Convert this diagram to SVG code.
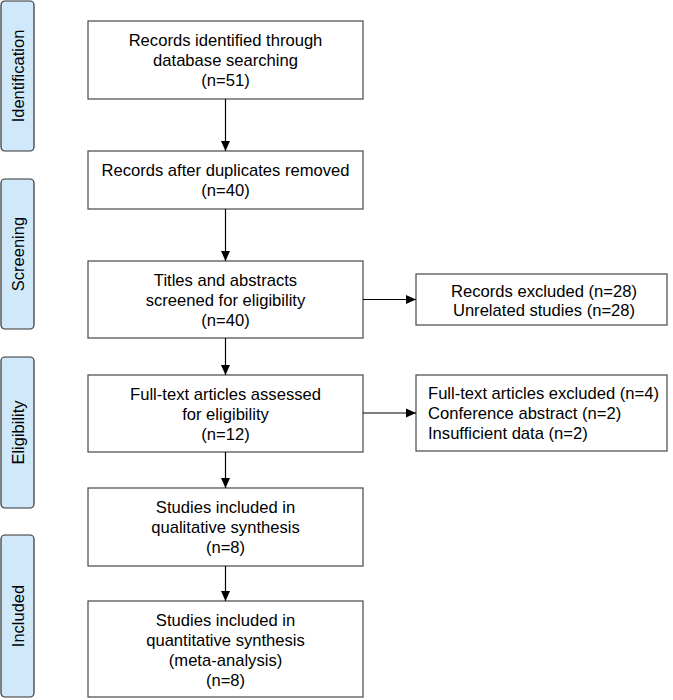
<svg xmlns="http://www.w3.org/2000/svg" width="673" height="700" viewBox="0 0 673 700">
<style>
.stage rect{fill:#cfe9fb;stroke:#333;stroke-width:1.2}
.stage text{font-family:"Liberation Sans",Arial,sans-serif;font-size:16.5px;fill:#000;text-anchor:middle}
.box rect{fill:#fff;stroke:#555;stroke-width:1.3}
.box text{font-family:"Liberation Sans",Arial,sans-serif;font-size:16.6px;fill:#000}
.c text{text-anchor:middle}
.l text{text-anchor:start}
#connectors line{stroke:#000;stroke-width:1.2}
</style>
<defs>
<marker id="ah" viewBox="0 0 10 10" refX="10" refY="5" markerWidth="10" markerHeight="10" markerUnits="userSpaceOnUse" orient="auto">
<path d="M0,0.5 L10,5 L0,9.5 Z" fill="#000"/>
</marker>
</defs>
<rect width="673" height="700" fill="#fff"/>
<g id="stage-identification" class="stage"><rect x="1" y="1" width="33" height="150" rx="4"/><text transform="translate(23.5,76) rotate(-90)">Identification</text></g>
<g id="stage-screening" class="stage"><rect x="1" y="179" width="33" height="150" rx="4"/><text transform="translate(23.5,254) rotate(-90)">Screening</text></g>
<g id="stage-eligibility" class="stage"><rect x="1" y="357" width="33" height="151" rx="4"/><text transform="translate(23.5,432.5) rotate(-90)">Eligibility</text></g>
<g id="stage-included" class="stage"><rect x="1" y="535" width="33" height="162" rx="4"/><text transform="translate(23.5,616) rotate(-90)">Included</text></g>

<g id="n1" class="box c"><rect x="88" y="21" width="275" height="78"/><text x="225.5" y="45.5">Records identified through</text><text x="225.5" y="65.5">database searching</text><text x="225.5" y="85.5">(n=51)</text></g>
<g id="n2" class="box c"><rect x="88" y="151" width="275" height="58"/><text x="225.5" y="175.5">Records after duplicates removed</text><text x="225.5" y="195.5">(n=40)</text></g>
<g id="n3" class="box c"><rect x="88" y="261" width="275" height="77"/><text x="225.5" y="285.5">Titles and abstracts</text><text x="225.5" y="305.5">screened for eligibility</text><text x="225.5" y="325.5">(n=40)</text></g>
<g id="n4" class="box c"><rect x="416" y="274" width="251" height="51"/><text x="544" y="296.5">Records excluded (n=28)</text><text x="544" y="316">Unrelated studies (n=28)</text></g>
<g id="n5" class="box c"><rect x="88" y="375" width="275" height="77"/><text x="225.5" y="399.5">Full-text articles assessed</text><text x="225.5" y="419.5">for eligibility</text><text x="225.5" y="439.5">(n=12)</text></g>
<g id="n6" class="box l"><rect x="416" y="375" width="251" height="76"/><text x="428" y="399">Full-text articles excluded (n=4)</text><text x="428" y="419">Conference abstract (n=2)</text><text x="428" y="439">Insufficient data (n=2)</text></g>
<g id="n7" class="box c"><rect x="88" y="488" width="275" height="78"/><text x="225.5" y="512.5">Studies included in</text><text x="225.5" y="532.5">qualitative synthesis</text><text x="225.5" y="552.5">(n=8)</text></g>
<g id="n8" class="box c"><rect x="88" y="601" width="275" height="96"/><text x="225.5" y="626">Studies included in</text><text x="225.5" y="646">quantitative synthesis</text><text x="225.5" y="666">(meta-analysis)</text><text x="225.5" y="686">(n=8)</text></g>

<g id="connectors">
<line x1="225.5" y1="99" x2="225.5" y2="151" marker-end="url(#ah)"/>
<line x1="225.5" y1="209" x2="225.5" y2="261" marker-end="url(#ah)"/>
<line x1="225.5" y1="338" x2="225.5" y2="375" marker-end="url(#ah)"/>
<line x1="225.5" y1="452" x2="225.5" y2="488" marker-end="url(#ah)"/>
<line x1="225.5" y1="566" x2="225.5" y2="601" marker-end="url(#ah)"/>
<line x1="363" y1="299.5" x2="416" y2="299.5" marker-end="url(#ah)"/>
<line x1="363" y1="413" x2="416" y2="413" marker-end="url(#ah)"/>
</g>
</svg>
